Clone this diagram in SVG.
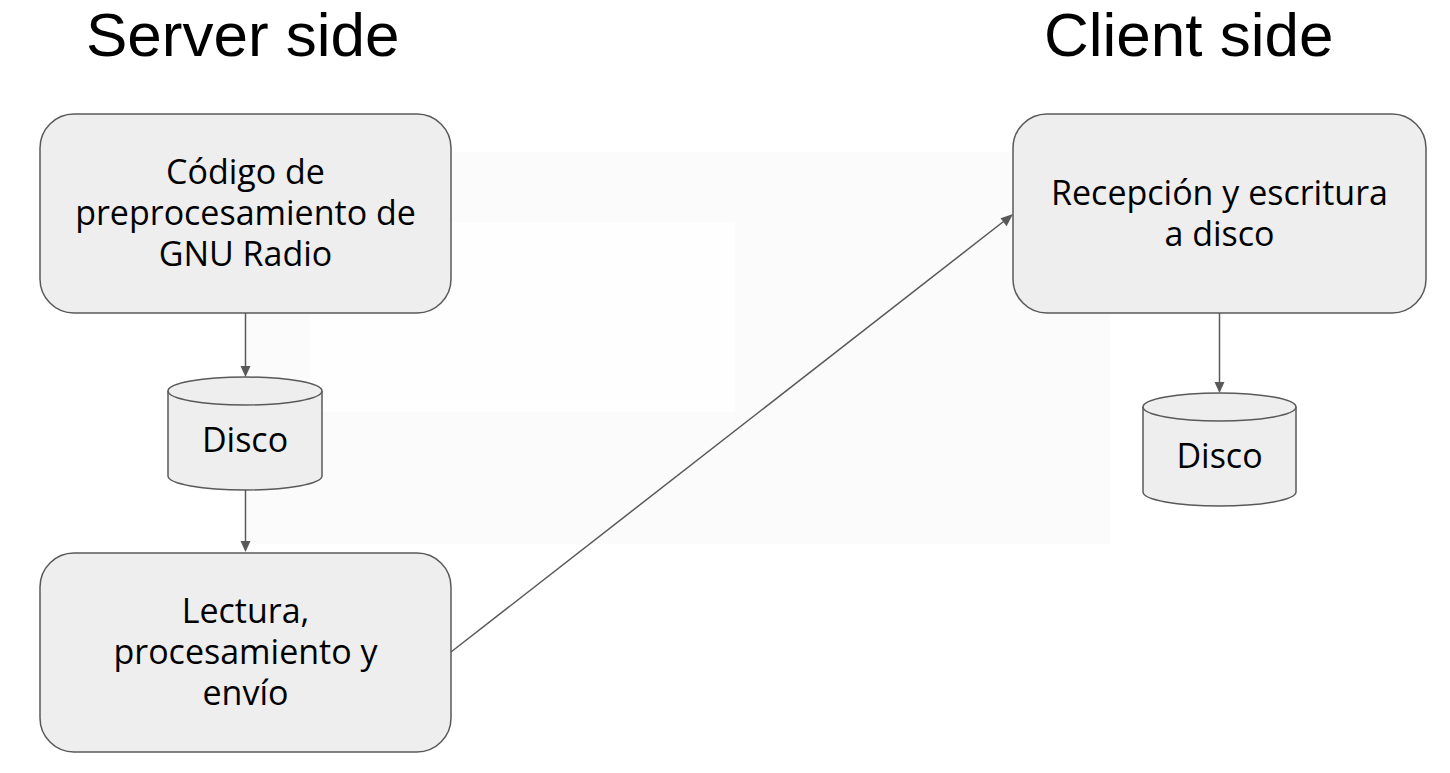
<svg xmlns="http://www.w3.org/2000/svg" width="1450" height="773" viewBox="0 0 1450 773">
<style>
.title{font-family:"Liberation Sans",Arial,sans-serif;font-size:62px;fill:#000}
.lbl{font-family:"Open Sans","Noto Sans",sans-serif;font-size:34px;fill:#000;text-anchor:middle}
.box{fill:#eeeeee;stroke:#595959;stroke-width:1.5}
.edge{fill:none;stroke:#595959;stroke-width:1.5}
.head{fill:#595959}
</style>
<rect width="1450" height="773" fill="#ffffff"/>
<rect x="245" y="152" width="865" height="392" fill="#fbfbfb"/>
<rect x="310" y="222" width="425" height="190" fill="#fefefe"/>
<text class="title" x="86" y="56">Server side</text>
<text class="title" x="1044" y="56">Client side</text>
<g id="connectors">
<line class="edge" x1="245.5" y1="313" x2="245.5" y2="370"/>
<path class="head" d="M240.5,366 L250.5,366 L245.5,377 Z"/>
<line class="edge" x1="245.5" y1="490" x2="245.5" y2="546"/>
<path class="head" d="M240.5,541 L250.5,541 L245.5,552 Z"/>
<line class="edge" x1="451" y1="652" x2="1008" y2="218"/>
<path class="head" d="M1013,214 L1000.5,218.3 L1006.6,226.2 Z"/>
<line class="edge" x1="1219.5" y1="313" x2="1219.5" y2="387"/>
<path class="head" d="M1214.5,382 L1224.5,382 L1219.5,393 Z"/>
</g>
<g id="n1">
<rect class="box" x="40" y="114" width="411" height="199" rx="34"/>
<text class="lbl" x="245.5" y="184">Código de</text>
<text class="lbl" x="245.5" y="225">preprocesamiento de</text>
<text class="lbl" x="245.5" y="266">GNU Radio</text>
</g>
<g id="n2">
<path class="box" d="M168,391 A77,14 0 0 1 322,391 L322,476 A77,14 0 0 1 168,476 Z"/>
<path class="edge" d="M168,391 A77,14 0 0 0 322,391"/>
<text class="lbl" x="245" y="452">Disco</text>
</g>
<g id="n3">
<rect class="box" x="40" y="553" width="411" height="199" rx="34"/>
<text class="lbl" x="245.5" y="623">Lectura,</text>
<text class="lbl" x="245.5" y="664">procesamiento y</text>
<text class="lbl" x="245.5" y="705">envío</text>
</g>
<g id="n4">
<rect class="box" x="1013" y="114" width="413" height="199" rx="34"/>
<text class="lbl" x="1219.5" y="205">Recepción y escritura</text>
<text class="lbl" x="1219.5" y="246">a disco</text>
</g>
<g id="n5">
<path class="box" d="M1143,407 A76.5,14 0 0 1 1296,407 L1296,492 A76.5,14 0 0 1 1143,492 Z"/>
<path class="edge" d="M1143,407 A76.5,14 0 0 0 1296,407"/>
<text class="lbl" x="1219.5" y="468">Disco</text>
</g>
</svg>
